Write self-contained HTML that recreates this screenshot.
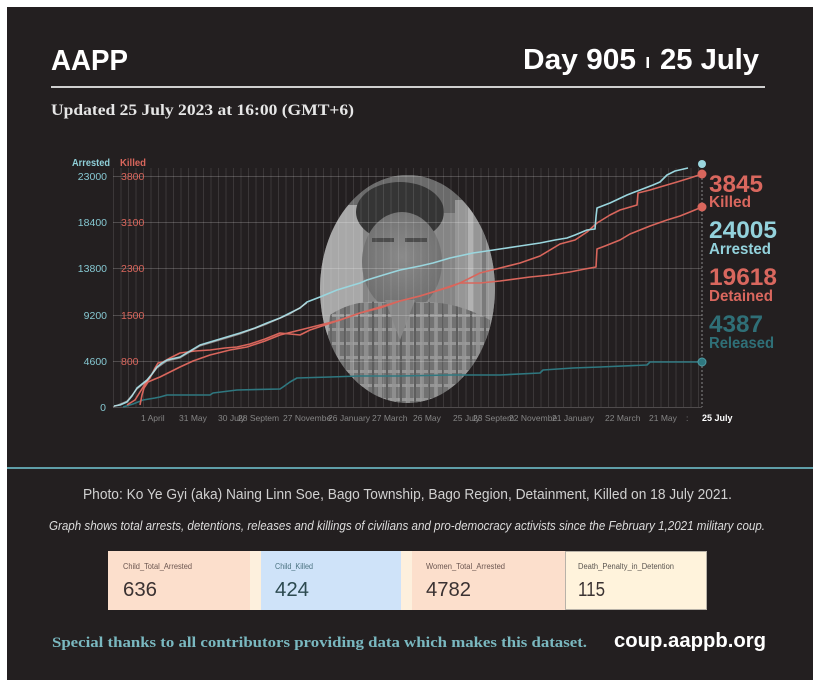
<!DOCTYPE html>
<html><head><meta charset="utf-8"><style>
html,body{margin:0;padding:0;background:#fff;}
svg{display:block;}
</style></head><body>
<svg width="820" height="687" viewBox="0 0 820 687" xmlns="http://www.w3.org/2000/svg">
<defs>
<clipPath id="ph"><ellipse cx="407.5" cy="289" rx="87.5" ry="114"/></clipPath>
<pattern id="plaid" width="14" height="14" patternUnits="userSpaceOnUse">
<rect width="14" height="14" fill="#727272"/>
<rect x="0" y="0" width="4" height="14" fill="#8e8e8e"/>
<rect x="0" y="6" width="14" height="3" fill="#959595"/>
<rect x="8" y="0" width="2" height="14" fill="#5e5e5e"/>
</pattern>
<radialGradient id="face" cx="0.5" cy="0.45" r="0.6">
<stop offset="0" stop-color="#8a8a8a"/>
<stop offset="1" stop-color="#6c6c6c"/>
</radialGradient>
</defs>
<rect x="0" y="0" width="820" height="687" fill="#ffffff"/>
<rect x="7" y="7" width="806" height="673" fill="#231f20"/>

<!-- header -->
<text x="51" y="70" font-family="Liberation Sans, sans-serif" font-weight="bold" font-size="29" fill="#ffffff" textLength="77" lengthAdjust="spacingAndGlyphs">AAPP</text>
<text x="523" y="69" font-family="Liberation Sans, sans-serif" font-weight="bold" font-size="29" fill="#ffffff" textLength="113" lengthAdjust="spacingAndGlyphs">Day 905</text>
<rect x="646.5" y="57" width="2.5" height="11" fill="#ffffff"/>
<text x="660" y="69" font-family="Liberation Sans, sans-serif" font-weight="bold" font-size="29" fill="#ffffff" textLength="99" lengthAdjust="spacingAndGlyphs">25 July</text>
<rect x="51" y="86" width="714" height="2" fill="#cfcfcf"/>
<text x="51" y="115" font-family="Liberation Serif, serif" font-weight="bold" font-size="15.5" fill="#e6e6e6" textLength="303" lengthAdjust="spacingAndGlyphs">Updated 25 July 2023 at 16:00 (GMT+6)</text>

<!-- photo -->
<g clip-path="url(#ph)">
<rect x="318" y="173" width="180" height="232" fill="#858585"/>
<rect x="318" y="173" width="180" height="40" fill="#6a6a6a"/>
<rect x="318" y="205" width="45" height="130" fill="#a8a8a8"/>
<rect x="455" y="200" width="42" height="140" fill="#969696"/>
<rect x="468" y="205" width="5" height="130" fill="#b2b2b2"/>
<rect x="482" y="205" width="4" height="130" fill="#7a7a7a"/>
<ellipse cx="400" cy="212" rx="44" ry="30" fill="#353535"/>
<ellipse cx="402" cy="262" rx="40" ry="50" fill="url(#face)"/>
<rect x="372" y="238" width="22" height="4" fill="#4c4c4c"/>
<rect x="405" y="238" width="22" height="4" fill="#4c4c4c"/>
<path d="M330 315 Q360 295 400 305 Q445 295 490 320 L495 410 L320 410 Z" fill="url(#plaid)"/>
<path d="M385 300 L400 340 L415 300 Z" fill="#878787"/>
</g>

<!-- grid -->
<g stroke="rgba(255,255,255,0.11)" stroke-width="1">
<path d="M113.5 168V407M121 168V407M128.5 168V407M136 168V407M143.5 168V407M151 168V407M158.5 168V407M166 168V407M173.5 168V407M181 168V407M188.5 168V407M196 168V407M203.5 168V407M211 168V407M218.5 168V407M226 168V407M233.5 168V407M241 168V407M248.5 168V407M256 168V407M263.5 168V407M271 168V407M278.5 168V407M286 168V407M293.5 168V407M301 168V407M308.5 168V407M316 168V407M323.5 168V407M331 168V407M338.5 168V407M346 168V407M353.5 168V407M361 168V407M368.5 168V407M376 168V407M383.5 168V407M391 168V407M398.5 168V407M406 168V407M413.5 168V407M421 168V407M428.5 168V407M436 168V407M443.5 168V407M451 168V407M458.5 168V407M466 168V407M473.5 168V407M481 168V407M488.5 168V407M496 168V407M503.5 168V407M511 168V407M518.5 168V407M526 168V407M533.5 168V407M541 168V407M548.5 168V407M556 168V407M563.5 168V407M571 168V407M578.5 168V407M586 168V407M593.5 168V407M601 168V407M608.5 168V407M616 168V407M623.5 168V407M631 168V407M638.5 168V407M646 168V407M653.5 168V407M661 168V407M668.5 168V407M676 168V407M683.5 168V407M691 168V407M698.5 168V407"/>
</g>
<g stroke="rgba(255,255,255,0.2)" stroke-width="1">
<path d="M113 176.5H702M113 222.5H702M113 268.5H702M113 315.5H702M113 361.5H702M113 407.5H702"/>
</g>
<path d="M702 166V407" stroke="#8a8a8a" stroke-width="1" stroke-dasharray="2,2"/>

<!-- axis labels -->
<g font-family="Liberation Sans, sans-serif" font-size="10.5">
<text x="72" y="166" font-weight="bold" fill="#8fcfd8" textLength="38" lengthAdjust="spacingAndGlyphs">Arrested</text>
<text x="120" y="166" font-weight="bold" fill="#d9665c" textLength="26" lengthAdjust="spacingAndGlyphs">Killed</text>
<g fill="#86c8d2" text-anchor="end">
<text x="107" y="180">23000</text>
<text x="107" y="226">18400</text>
<text x="107" y="272">13800</text>
<text x="107" y="319">9200</text>
<text x="107" y="365">4600</text>
<text x="106" y="411">0</text>
</g>
<g fill="#d9665c">
<text x="121" y="180">3800</text>
<text x="121" y="226">3100</text>
<text x="121" y="272">2300</text>
<text x="121" y="319">1500</text>
<text x="121" y="365">800</text>
</g>
</g>
<g font-family="Liberation Sans, sans-serif" font-size="8.5" fill="#858585">
<text x="141" y="421">1 April</text>
<text x="179" y="421">31 May</text>
<text x="218" y="421">30 July</text>
<text x="238" y="421">28 Septem</text>
<text x="283" y="421">27 Novembe</text>
<text x="328" y="421">26 January</text>
<text x="372" y="421">27 March</text>
<text x="413" y="421">26 May</text>
<text x="453" y="421">25 July</text>
<text x="473" y="421">23 Septem</text>
<text x="509" y="421">22 Novembe</text>
<text x="552" y="421">21 January</text>
<text x="605" y="421">22 March</text>
<text x="649" y="421">21 May</text>
<text x="686" y="421">:</text>
<text x="702" y="421" font-weight="bold" fill="#ffffff" font-size="9">25 July</text>
</g>

<!-- series -->
<g fill="none" stroke-width="1.6" stroke-linejoin="round">
<polyline stroke="#2f7880" points="123,407 133,404 143,400 155,398 160,397 167,395 210,395 213,393 237,390 280,389 283,387 290,382 297,378 330,377 360,376 400,376 450,375 500,375 540,373 543,370 573,368 600,367 647,365 650,362 702,362"/>
<polyline stroke="#d9665c" points="127,405 135,400 140,392 145,384 150,378 155,368 158,363 163,362 170,358 180,353 195,351 210,350 225,348 237,347 250,344 265,339 280,333 290,334 300,335 310,330 325,325 340,320 360,313 380,308 400,301 420,296 433,292 445,288 460,283 480,283 500,281 530,277 550,275 570,272 585,269 596,267 597,249 605,246 620,240 630,234 640,230 650,226 667,220 680,216 690,212 702,207"/>
<polyline stroke="#d9665c" points="140,405 142,395 144,388 148,382 155,379 160,377 170,372 180,367 193,361 210,355 230,350 247,347 265,341 280,335 300,330 320,325 340,320 360,313 380,307 400,301 420,296 433,292 450,287 460,283 480,273 500,268 520,263 540,256 560,244 575,240 587,232 597,223 610,215 620,210 637,205 638,193 650,190 660,187 677,182 690,178 702,174"/>
<polyline stroke="#9ad6de" points="114,406 120,405 127,402 132,396 137,388 142,384 147,380 152,374 157,367 162,363 167,360 180,357 190,351 200,345 220,339 240,333 255,328 267,323 280,318 290,313 300,308 307,302 320,297 337,290 350,286 360,283 367,280 380,276 400,270 420,266 433,263 450,258 473,253 480,252 500,249 520,246 540,243 555,240 567,238 575,235 587,230 595,229 596,217 597,208 610,203 627,195 640,190 653,185 660,182 667,175 675,171 688,168"/>
<polyline stroke="#d8d8d8" stroke-opacity="0.55" stroke-width="1.2" points="113,407 127,401 137,389 147,381 157,368 167,361 180,358 200,346 240,334 267,324 290,314 307,303"/>
</g>
<circle cx="702" cy="164" r="4" fill="#9ad6de"/>
<circle cx="702" cy="174" r="4.5" fill="#d9665c"/>
<circle cx="702" cy="207" r="4.5" fill="#d9665c"/>
<circle cx="702" cy="362" r="4" fill="#2f7880" stroke="#4f9aa2" stroke-width="1"/>

<!-- right labels -->
<g font-family="Liberation Sans, sans-serif" font-weight="bold">
<text x="709" y="192" font-size="24" fill="#d9675e" textLength="54" lengthAdjust="spacingAndGlyphs">3845</text>
<text x="709" y="207" font-size="16" fill="#d9675e" textLength="42" lengthAdjust="spacingAndGlyphs">Killed</text>
<text x="709" y="238" font-size="24" fill="#93d2dc" textLength="68" lengthAdjust="spacingAndGlyphs">24005</text>
<text x="709" y="254" font-size="16" fill="#93d2dc" textLength="62" lengthAdjust="spacingAndGlyphs">Arrested</text>
<text x="709" y="285" font-size="24" fill="#d9675e" textLength="68" lengthAdjust="spacingAndGlyphs">19618</text>
<text x="709" y="301" font-size="16" fill="#d9675e" textLength="64" lengthAdjust="spacingAndGlyphs">Detained</text>
<text x="709" y="332" font-size="24" fill="#2f6f77" textLength="54" lengthAdjust="spacingAndGlyphs">4387</text>
<text x="709" y="348" font-size="16" fill="#2f6f77" textLength="65" lengthAdjust="spacingAndGlyphs">Released</text>
</g>

<!-- divider -->
<rect x="7" y="467" width="806" height="2" fill="#5f9ea8"/>

<text x="83" y="499" font-family="Liberation Sans, sans-serif" font-size="14.5" fill="#d0d0d0" textLength="649" lengthAdjust="spacingAndGlyphs">Photo: Ko Ye Gyi (aka) Naing Linn Soe, Bago Township, Bago Region, Detainment, Killed on 18 July 2021.</text>
<text x="49" y="530" font-family="Liberation Sans, sans-serif" font-style="italic" font-size="12.5" fill="#dcdcdc" textLength="716" lengthAdjust="spacingAndGlyphs">Graph shows total arrests, detentions, releases and killings of civilians and pro-democracy activists since the February 1,2021 military coup.</text>

<!-- cards -->
<rect x="108" y="551" width="153" height="59" fill="#fcdfcc"/>
<rect x="250" y="551" width="11" height="59" fill="#fdf0dd"/>
<rect x="261" y="551" width="140" height="59" fill="#cfe3f9"/>
<rect x="401" y="551" width="164" height="59" fill="#fcdfcc"/>
<rect x="401" y="551" width="11" height="59" fill="#fdf0dd"/>
<rect x="565.5" y="551.5" width="141" height="58" fill="#fff3dc" stroke="#b8b2a8" stroke-width="1"/>
<g font-family="Liberation Sans, sans-serif" font-size="8">
<text x="123" y="569" fill="#6b5650" textLength="69" lengthAdjust="spacingAndGlyphs">Child_Total_Arrested</text>
<text x="275" y="569" fill="#4a7280" textLength="38" lengthAdjust="spacingAndGlyphs">Child_Killed</text>
<text x="426" y="569" fill="#6b5650" textLength="79" lengthAdjust="spacingAndGlyphs">Women_Total_Arrested</text>
<text x="578" y="569" fill="#5a5550" textLength="96" lengthAdjust="spacingAndGlyphs">Death_Penalty_in_Detention</text>
</g>
<g font-family="Liberation Sans, sans-serif" font-size="20" fill="#3a3232">
<text x="123" y="596" textLength="34" lengthAdjust="spacingAndGlyphs">636</text>
<text x="275" y="596" fill="#2c4a50" textLength="34" lengthAdjust="spacingAndGlyphs">424</text>
<text x="426" y="596" textLength="45" lengthAdjust="spacingAndGlyphs">4782</text>
<text x="578" y="596" textLength="27" lengthAdjust="spacingAndGlyphs">115</text>
</g>

<!-- footer -->
<text x="52" y="647" font-family="Liberation Serif, serif" font-weight="bold" font-size="15" fill="#7ab8c0" textLength="535" lengthAdjust="spacingAndGlyphs">Special thanks to all contributors providing data which makes this dataset.</text>
<text x="614" y="647" font-family="Liberation Sans, sans-serif" font-weight="bold" font-size="20" fill="#ffffff" textLength="152" lengthAdjust="spacingAndGlyphs">coup.aappb.org</text>
</svg>
</body></html>
